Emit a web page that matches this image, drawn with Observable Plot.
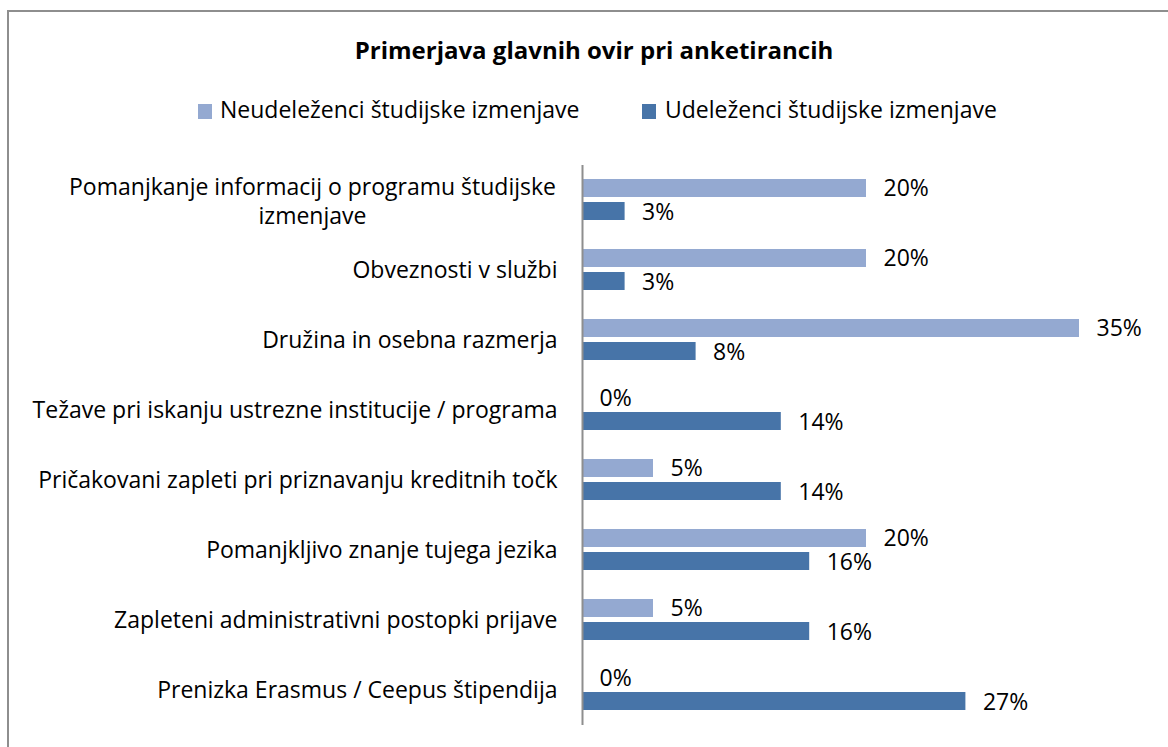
<!DOCTYPE html>
<html>
<head>
<meta charset="utf-8">
<script src="https://cdn.jsdelivr.net/npm/d3@7"></script>
<script src="https://cdn.jsdelivr.net/npm/@observablehq/plot@0.6"></script>
<style>
  html, body { margin: 0; padding: 0; background: #fff; }
  #wrap { position: relative; width: 1168px; height: 747px; overflow: hidden; font-family: "Open Sans", sans-serif; color: #000; }
  #frame { position: absolute; left: 7px; top: 10px; width: 1300px; height: 900px; border-left: 2px solid #8e8e8e; border-top: 2px solid #8e8e8e; }
  #title { position: absolute; left: 0; width: 1188px; top: 38px; line-height: 24px; text-align: center; font-weight: bold; font-size: 24px; }
  .leg { position: absolute; top: 98px; line-height: 23px; font-size: 23px; white-space: nowrap; }
  .sw { position: absolute; top: 104px; width: 14px; height: 15px; }
  #chart { position: absolute; left: 0; top: 140px; }
</style>
</head>
<body>
<div id="wrap">
  <div id="frame"></div>
  <div id="title"></div>
  <div class="sw" id="sw1" style="left:198px"></div>
  <div class="leg" id="lg1" style="left:220px"></div>
  <div class="sw" id="sw2" style="left:642px"></div>
  <div class="leg" id="lg2" style="left:665px"></div>
  <div id="chart"></div>
</div>
<script>
const title = "Primerjava glavnih ovir pri anketirancih";
const seriesNames = ["Neudeleženci študijske izmenjave", "Udeleženci študijske izmenjave"];
const seriesColors = ["#94A9D1", "#4774A8"];
const categories = [
  "Pomanjkanje informacij o programu študijske izmenjave",
  "Obveznosti v službi",
  "Družina in osebna razmerja",
  "Težave pri iskanju ustrezne institucije / programa",
  "Pričakovani zapleti pri priznavanju kreditnih točk",
  "Pomanjkljivo znanje tujega jezika",
  "Zapleteni administrativni postopki prijave",
  "Prenizka Erasmus / Ceepus štipendija"
];
const neudelezenci = [20, 20, 35, 0, 5, 20, 5, 0];
const udelezenci = [3, 3, 8, 14, 14, 16, 16, 27];
const wrappedFirst = "Pomanjkanje informacij o programu študijske\nizmenjave";

const data = categories.map((c, i) => ({cat: c, neu: neudelezenci[i], ude: udelezenci[i]}));

document.getElementById("title").textContent = title;
document.getElementById("lg1").textContent = seriesNames[0];
document.getElementById("lg2").textContent = seriesNames[1];
document.getElementById("sw1").style.background = seriesColors[0];
document.getElementById("sw2").style.background = seriesColors[1];

const FONT = "'Open Sans', sans-serif";
const FS = 23;
const chart = Plot.plot({
  width: 1168,
  height: 607,
  marginLeft: 582,
  marginRight: 89,
  marginTop: 25,
  marginBottom: 22,
  style: {fontFamily: FONT, fontSize: FS + "px", color: "#000", background: "transparent", overflow: "visible"},
  x: {domain: [0, 35], axis: null},
  y: {domain: categories, padding: 0, axis: null},
  marks: [
    Plot.barX(data, {x: "neu", y: "cat", fill: seriesColors[0], insetTop: 14, insetBottom: 38}),
    Plot.barX(data, {x: "ude", y: "cat", fill: seriesColors[1], insetTop: 37, insetBottom: 15}),
    Plot.text(data, {x: "neu", y: "cat", text: d => d.neu + "%", textAnchor: "start", dx: 17, dy: -12, fontSize: FS, fill: "#000"}),
    Plot.text(data, {x: "ude", y: "cat", text: d => d.ude + "%", textAnchor: "start", dx: 17, dy: 12, fontSize: FS, fill: "#000"}),
    Plot.ruleX([0], {stroke: "#8e8e8e", strokeWidth: 2}),
    Plot.axisY({ticks: categories.slice(1), tickSize: 0, tickPadding: 25, fontSize: FS, label: null}),
    Plot.axisY({ticks: [categories[0]], tickSize: 0, tickPadding: 25, fontSize: FS, label: null, textAnchor: "middle", dx: -245, lineHeight: 1.24, tickFormat: () => wrappedFirst})
  ]
});
document.getElementById("chart").appendChild(chart);
</script>
</body>
</html>
